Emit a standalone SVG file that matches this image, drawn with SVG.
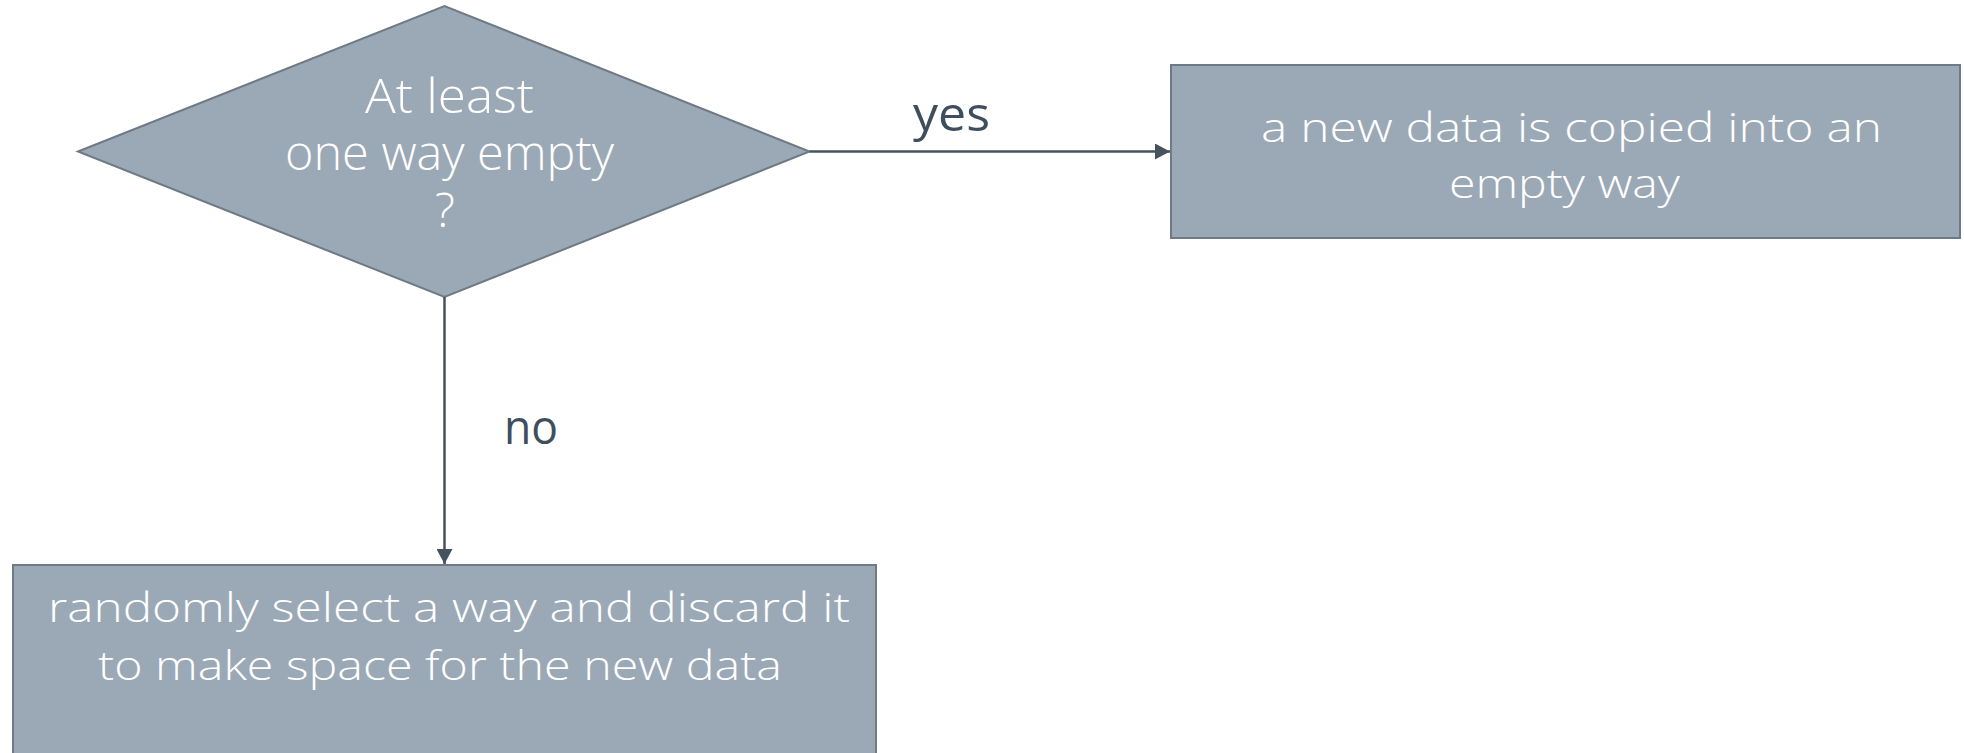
<svg xmlns="http://www.w3.org/2000/svg" width="1964" height="753" viewBox="0 0 1964 753">
  <style>
    .shape { fill: #9ba9b6; stroke: #6e7a86; stroke-width: 2; }
    .inner { fill: #ffffff; font-family: "Open Sans", "Noto Sans", "Liberation Sans", sans-serif; font-weight: 300; }
    .lbl { fill: #3e4e5d; font-family: "Open Sans", "Noto Sans", "Liberation Sans", sans-serif; font-weight: 400; font-size: 48px; }
    .edge { stroke: #45535f; stroke-width: 2.5; fill: none; }
  </style>
  <defs>
    <marker id="arrow" markerUnits="userSpaceOnUse" markerWidth="16" markerHeight="16" refX="15" refY="8" orient="auto">
      <path d="M0,0 L15,8 L0,16 Z" fill="#45535f"/>
    </marker>
  </defs>

  <rect width="1964" height="753" fill="#ffffff"/>

  <!-- decision -->
  <g id="decision">
    <polygon class="shape" points="78,151.5 444.5,6 809.5,151.5 444.5,297"/>
    <text class="inner" font-size="47" x="365" y="113" textLength="169" lengthAdjust="spacingAndGlyphs">At least</text>
    <text class="inner" font-size="47" x="285" y="170" textLength="329" lengthAdjust="spacingAndGlyphs">one way empty</text>
    <text class="inner" font-size="47" x="445" y="227" text-anchor="middle">?</text>
  </g>

  <!-- yes branch -->
  <g id="copy-into-empty">
    <rect class="shape" x="1171" y="65" width="789" height="173"/>
    <text class="inner" font-size="41" x="1261" y="142" textLength="621" lengthAdjust="spacingAndGlyphs">a new data is copied into an</text>
    <text class="inner" font-size="41" x="1449" y="198" textLength="231" lengthAdjust="spacingAndGlyphs">empty way</text>
  </g>

  <!-- no branch -->
  <g id="random-evict">
    <rect class="shape" x="13" y="565" width="863" height="200"/>
    <text class="inner" font-size="41" x="48" y="622" textLength="802" lengthAdjust="spacingAndGlyphs">randomly select a way and discard it</text>
    <text class="inner" font-size="41" x="98" y="680" textLength="684" lengthAdjust="spacingAndGlyphs">to make space for the new data</text>
  </g>

  <!-- connectors -->
  <g id="connectors">
    <line class="edge" x1="809.5" y1="151.5" x2="1170" y2="151.5" marker-end="url(#arrow)"/>
    <line class="edge" x1="444.5" y1="297" x2="444.5" y2="564" marker-end="url(#arrow)"/>
    <text class="lbl" x="913" y="131" textLength="77" lengthAdjust="spacingAndGlyphs">yes</text>
    <text class="lbl" x="504" y="444" textLength="54" lengthAdjust="spacingAndGlyphs">no</text>
  </g>
</svg>
